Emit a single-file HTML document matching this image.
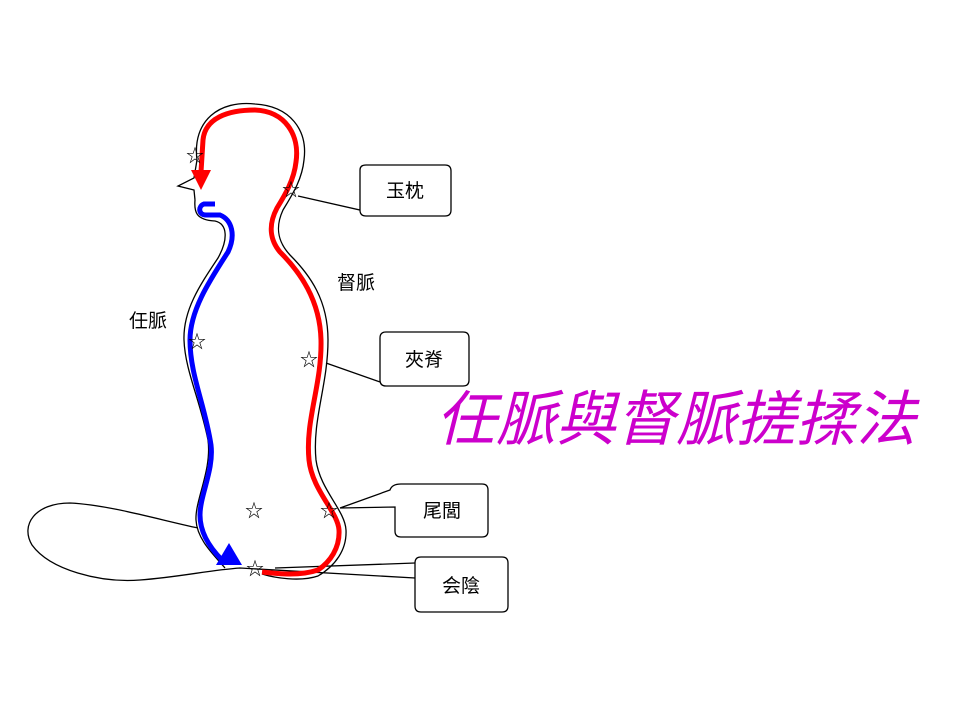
<!DOCTYPE html>
<html><head><meta charset="utf-8"><style>
body{margin:0;background:#fff;width:960px;height:720px;overflow:hidden}
svg{display:block}
text{font-family:"Liberation Sans","Noto Sans CJK TC",sans-serif}
</style></head><body>
<svg width="960" height="720" viewBox="0 0 960 720" xmlns="http://www.w3.org/2000/svg">
<g fill="none" stroke="#000" stroke-width="1.3">
<path d="M197,160 C192,120 220,100 255,104 C290,106 308,130 304,160 C302,180 292,195 283,210 C276,225 276,240 290,255 C310,275 328,300 328,340 C328,385 312,420 316,460 C320,490 345,510 346,530 C347,550 335,566 318,576 C300,582 275,578 262,574"/>
<path d="M195,200 C194,212 196,220 215,221 C228,224 228,240 218,258 C200,285 183,310 184,340 C185,370 200,400 208,440 C212,470 195,500 196,520 C197,540 215,556 225,568"/>
<path d="M197,160 L194,178 L178,186 L194,190 L195,200"/>
<path d="M198,528 C160,520 110,505 70,503 C35,503 20,525 32,545 C50,570 100,583 140,580 C180,577 210,570 240,568 L415,578"/>
<path d="M298,196 L360,210 L360,170 Q360,165 366,165 L445,165 Q451,165 451,171 L451,210 Q451,216 445,216 L366,216 Q360,216 360,210"/>
<path d="M326,363 L380,382 L380,338 Q380,332 386,332 L463,332 Q469,332 469,338 L469,380 Q469,386 463,386 L386,386 Q380,386 380,380"/>
<path d="M340,508 L390,490 Q392,484 401,484 L482,484 Q488,484 488,490 L488,531 Q488,537 482,537 L401,537 Q395,537 395,531 L395,507 L340,508"/>
<path d="M415,578 L415,563 Q415,557 421,557 L502,557 Q508,557 508,563 L508,606 Q508,612 502,612 L421,612 Q415,612 415,606 Z"/>
<path d="M275,568 L415,563"/>
</g>
<path d="M201,172 L203,140 C205,118 228,110 255,110 C285,111 300,135 296,162 C294,180 285,195 277,208 C268,225 270,240 280,252 C300,272 320,300 321,340 C322,385 305,420 309,460 C312,490 338,512 339,530 C340,548 330,562 318,570 C300,576 280,574 262,572" fill="none" stroke="#f00" stroke-width="5"/>
<polygon points="191,170 211,170 201,190" fill="#f00"/>
<path d="M215,204 L204,204 C198,206 198,215 206,215 L220,215 C232,220 236,235 228,252 C210,280 190,310 190,340 C190,375 205,405 211,445 C214,470 200,495 200,515 C200,535 212,550 222,560" fill="none" stroke="#00f" stroke-width="5"/>
<polygon points="229,543 242,565 216,565" fill="#00f"/>
<g font-size="18" fill="#000" text-anchor="middle">
<text x="195" y="162">☆</text>
<text x="291" y="196">☆</text>
<text x="197" y="348">☆</text>
<text x="309" y="366">☆</text>
<text x="254" y="517">☆</text>
<text x="329" y="517">☆</text>
<text x="255" y="575">☆</text>
</g>
<g font-size="19" fill="#000" text-anchor="middle">
<text x="405" y="197">玉枕</text>
<text x="424" y="366">夾脊</text>
<text x="442" y="517">尾閭</text>
<text x="461" y="592">会陰</text>
<text x="148" y="327">任脈</text>
<text x="356" y="289">督脈</text>
</g>
<text x="436" y="440" font-size="60" font-style="italic" fill="#cc00cc" textLength="480" lengthAdjust="spacingAndGlyphs">任脈與督脈搓揉法</text>
</svg>
</body></html>
